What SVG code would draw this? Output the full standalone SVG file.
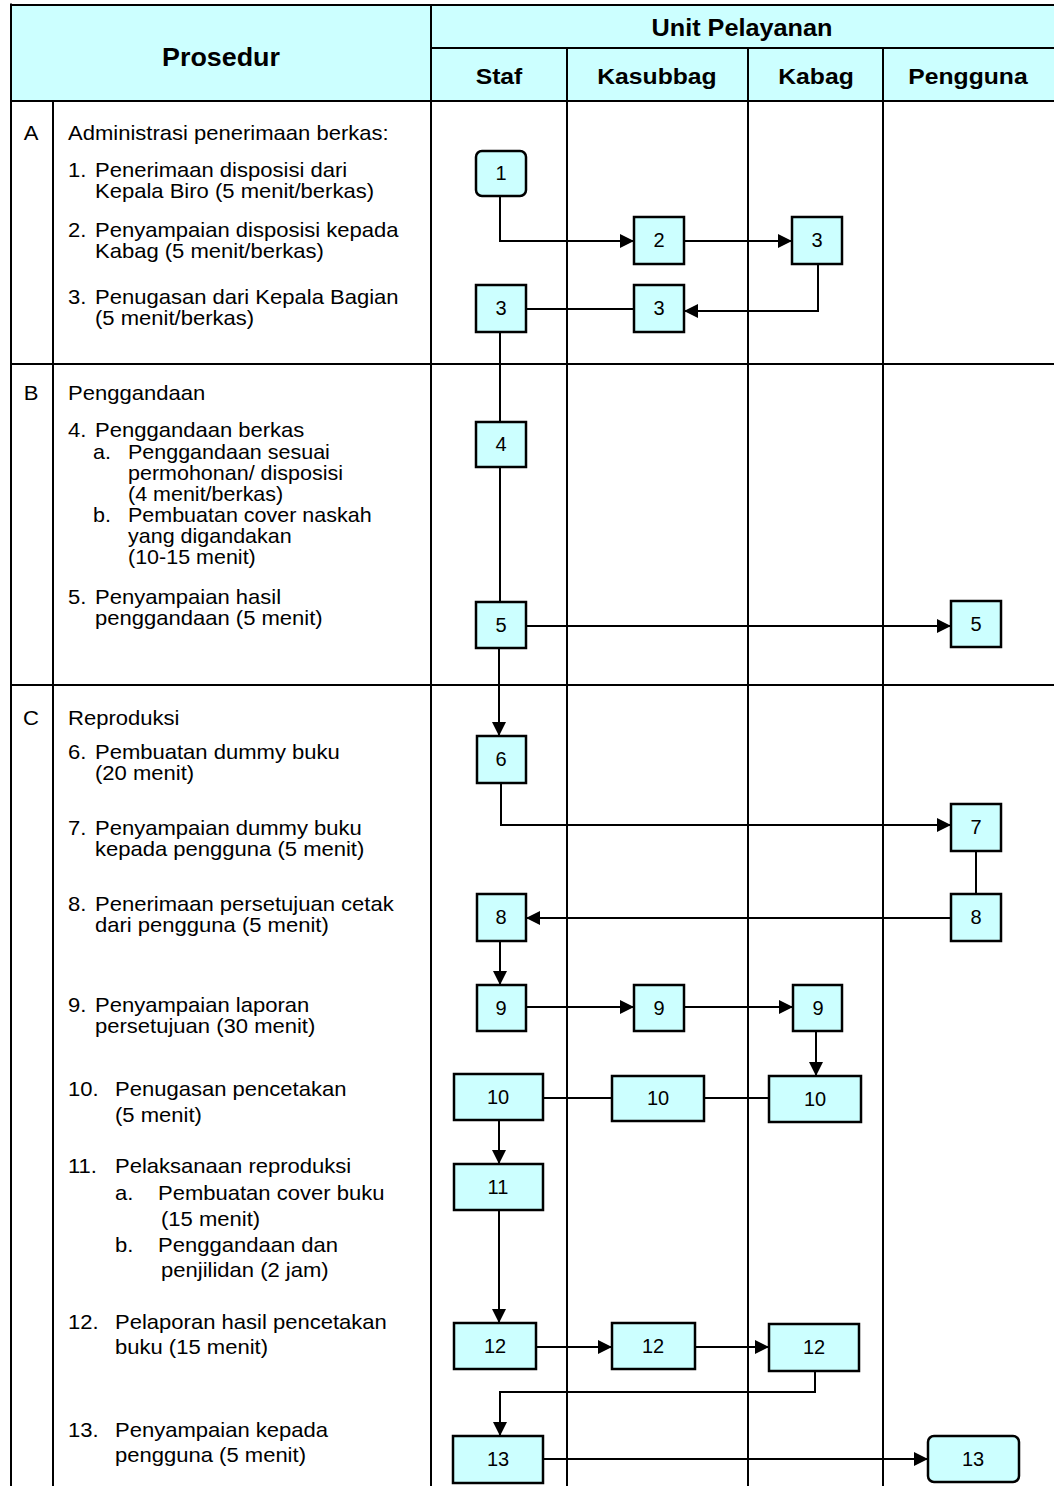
<svg xmlns="http://www.w3.org/2000/svg" width="1054" height="1486" viewBox="0 0 1054 1486">
<defs>
<style>
.t{font-family:"Liberation Sans",Arial,sans-serif;font-size:20.5px;fill:#000}
.s{font-size:20px}
.h{font-family:"Liberation Sans",Arial,sans-serif;font-weight:bold;fill:#000;text-anchor:middle}
.n{font-family:"Liberation Sans",Arial,sans-serif;font-size:20px;fill:#000;text-anchor:middle}
.c{text-anchor:middle}
.box{fill:#CCFFFF;stroke:#000;stroke-width:2.5}
.g{stroke:#000;stroke-width:2;fill:none}
.ln{stroke:#000;stroke-width:2;fill:none}
</style>
<marker id="ah" viewBox="0 0 10 10" refX="10" refY="5" markerWidth="14" markerHeight="14" markerUnits="userSpaceOnUse" orient="auto">
<path d="M0,0 L10,5 L0,10 z" fill="#000"/>
</marker>
</defs>
<rect x="0" y="0" width="1054" height="1486" fill="#fff"/>
<g id="grid">
<rect x="12" y="5" width="1042" height="96" fill="#CCFFFF"/>
<line class="g" x1="12" y1="5" x2="1054" y2="5" stroke-width="3"/>
<line class="g" x1="11" y1="3.5" x2="11" y2="1486" stroke-width="4"/>
<line class="g" x1="431" y1="5" x2="431" y2="1486"/>
<line class="g" x1="431" y1="48" x2="1054" y2="48"/>
<line class="g" x1="12" y1="101" x2="1054" y2="101"/>
<line class="g" x1="567" y1="48" x2="567" y2="1486"/>
<line class="g" x1="748" y1="48" x2="748" y2="1486"/>
<line class="g" x1="883" y1="48" x2="883" y2="1486"/>
<line class="g" x1="53" y1="101" x2="53" y2="1486"/>
<line class="g" x1="12" y1="364" x2="1054" y2="364"/>
<line class="g" x1="12" y1="685" x2="1054" y2="685"/>
<g transform="scale(1.075,1)">
<text class="h" x="205.58" y="66" font-size="25">Prosedur</text>
<text class="h" x="690.23" y="36" font-size="23.5">Unit Pelayanan</text>
<text class="h" x="464.19" y="84" font-size="23">Staf</text>
<text class="h" x="611.16" y="84" font-size="23">Kasubbag</text>
<text class="h" x="759.07" y="84" font-size="23">Kabag</text>
<text class="h" x="900.47" y="84" font-size="23">Pengguna</text>
</g>
</g>
<g id="prosedur" transform="scale(1.075,1)">
<text class="t c" x="28.84" y="140">A</text>
<text class="t" x="63.26" y="140">Administrasi penerimaan berkas:</text>
<text class="t" x="63.26" y="177">1.</text>
<text class="t" x="88.37" y="177">Penerimaan disposisi dari</text>
<text class="t" x="88.37" y="198">Kepala Biro (5 menit/berkas)</text>
<text class="t" x="63.26" y="237">2.</text>
<text class="t" x="88.37" y="237">Penyampaian disposisi kepada</text>
<text class="t" x="88.37" y="258">Kabag (5 menit/berkas)</text>
<text class="t" x="63.26" y="304">3.</text>
<text class="t" x="88.37" y="304">Penugasan dari Kepala Bagian</text>
<text class="t" x="88.37" y="325">(5 menit/berkas)</text>

<text class="t c" x="28.84" y="400">B</text>
<text class="t" x="63.26" y="400">Penggandaan</text>
<text class="t" x="63.26" y="437">4.</text>
<text class="t" x="88.37" y="437">Penggandaan berkas</text>
<text class="t s" x="86.51" y="459">a.</text>
<text class="t s" x="119.07" y="459">Penggandaan sesuai</text>
<text class="t s" x="119.07" y="480">permohonan/ disposisi</text>
<text class="t s" x="119.07" y="501">(4 menit/berkas)</text>
<text class="t s" x="86.51" y="522">b.</text>
<text class="t s" x="119.07" y="522">Pembuatan cover naskah</text>
<text class="t s" x="119.07" y="543">yang digandakan</text>
<text class="t s" x="119.07" y="564">(10-15 menit)</text>
<text class="t" x="63.26" y="604">5.</text>
<text class="t" x="88.37" y="604">Penyampaian hasil</text>
<text class="t" x="88.37" y="625">penggandaan (5 menit)</text>

<text class="t c" x="28.84" y="725">C</text>
<text class="t" x="63.26" y="725">Reproduksi</text>
<text class="t" x="63.26" y="759">6.</text>
<text class="t" x="88.37" y="759">Pembuatan dummy buku</text>
<text class="t" x="88.37" y="780">(20 menit)</text>
<text class="t" x="63.26" y="835">7.</text>
<text class="t" x="88.37" y="835">Penyampaian dummy buku</text>
<text class="t" x="88.37" y="856">kepada pengguna (5 menit)</text>
<text class="t" x="63.26" y="911">8.</text>
<text class="t" x="88.37" y="911">Penerimaan persetujuan cetak</text>
<text class="t" x="88.37" y="932">dari pengguna (5 menit)</text>
<text class="t" x="63.26" y="1012">9.</text>
<text class="t" x="88.37" y="1012">Penyampaian laporan</text>
<text class="t" x="88.37" y="1033">persetujuan (30 menit)</text>
<text class="t" x="63.26" y="1096">10.</text>
<text class="t" x="106.98" y="1096">Penugasan pencetakan</text>
<text class="t" x="106.98" y="1122">(5 menit)</text>
<text class="t" x="63.26" y="1173">11.</text>
<text class="t" x="106.98" y="1173">Pelaksanaan reproduksi</text>
<text class="t" x="106.98" y="1200">a.</text>
<text class="t" x="146.98" y="1200">Pembuatan cover buku</text>
<text class="t" x="149.77" y="1226">(15 menit)</text>
<text class="t" x="106.98" y="1252">b.</text>
<text class="t" x="146.98" y="1252">Penggandaan dan</text>
<text class="t" x="149.77" y="1277">penjilidan (2 jam)</text>
<text class="t" x="63.26" y="1329">12.</text>
<text class="t" x="106.98" y="1329">Pelaporan hasil pencetakan</text>
<text class="t" x="106.98" y="1354">buku (15 menit)</text>
<text class="t" x="63.26" y="1437">13.</text>
<text class="t" x="106.98" y="1437">Penyampaian kepada</text>
<text class="t" x="106.98" y="1462">pengguna (5 menit)</text>
</g>
<g id="connectors">
<path class="ln" d="M500,196 V241 H634" marker-end="url(#ah)"/>
<path class="ln" d="M684,241 H792" marker-end="url(#ah)"/>
<path class="ln" d="M818,264 V311 H684" marker-end="url(#ah)"/>
<path class="ln" d="M634,309 H526"/>
<path class="ln" d="M500,332 V422"/>
<path class="ln" d="M500,467 V602"/>
<path class="ln" d="M526,626 H951" marker-end="url(#ah)"/>
<path class="ln" d="M499,648 V736" marker-end="url(#ah)"/>
<path class="ln" d="M501,783 V825 H951" marker-end="url(#ah)"/>
<path class="ln" d="M976,851 V894"/>
<path class="ln" d="M951,918 H526" marker-end="url(#ah)"/>
<path class="ln" d="M500,941 V985" marker-end="url(#ah)"/>
<path class="ln" d="M526,1007 H634" marker-end="url(#ah)"/>
<path class="ln" d="M684,1007 H793" marker-end="url(#ah)"/>
<path class="ln" d="M816,1031 V1076" marker-end="url(#ah)"/>
<path class="ln" d="M543,1098 H612"/>
<path class="ln" d="M704,1098 H769"/>
<path class="ln" d="M499,1120 V1164" marker-end="url(#ah)"/>
<path class="ln" d="M499,1210 V1323" marker-end="url(#ah)"/>
<path class="ln" d="M536,1347 H612" marker-end="url(#ah)"/>
<path class="ln" d="M695,1347 H769" marker-end="url(#ah)"/>
<path class="ln" d="M815,1371 V1392 H500 V1436" marker-end="url(#ah)"/>
<path class="ln" d="M543,1459 H928" marker-end="url(#ah)"/>
</g>
<g id="n1"><rect class="box" x="476" y="151" width="50" height="45" rx="6"/><text class="n" x="501" y="180">1</text></g>
<g id="n2"><rect class="box" x="634" y="217" width="50" height="47"/><text class="n" x="659" y="247">2</text></g>
<g id="n3kabag"><rect class="box" x="792" y="217" width="50" height="47"/><text class="n" x="817" y="247">3</text></g>
<g id="n3staf"><rect class="box" x="476" y="285" width="50" height="47"/><text class="n" x="501" y="315">3</text></g>
<g id="n3kasubbag"><rect class="box" x="634" y="285" width="50" height="47"/><text class="n" x="659" y="315">3</text></g>
<g id="n4"><rect class="box" x="476" y="422" width="50" height="45"/><text class="n" x="501" y="451">4</text></g>
<g id="n5staf"><rect class="box" x="476" y="602" width="50" height="46"/><text class="n" x="501" y="632">5</text></g>
<g id="n5pengguna"><rect class="box" x="951" y="601" width="50" height="46"/><text class="n" x="976" y="631">5</text></g>
<g id="n6"><rect class="box" x="477" y="736" width="49" height="47"/><text class="n" x="501" y="766">6</text></g>
<g id="n7"><rect class="box" x="951" y="804" width="50" height="47"/><text class="n" x="976" y="834">7</text></g>
<g id="n8staf"><rect class="box" x="477" y="894" width="49" height="47"/><text class="n" x="501" y="924">8</text></g>
<g id="n8pengguna"><rect class="box" x="951" y="894" width="50" height="47"/><text class="n" x="976" y="924">8</text></g>
<g id="n9staf"><rect class="box" x="477" y="985" width="49" height="46"/><text class="n" x="501" y="1015">9</text></g>
<g id="n9kasubbag"><rect class="box" x="634" y="985" width="50" height="46"/><text class="n" x="659" y="1015">9</text></g>
<g id="n9kabag"><rect class="box" x="793" y="985" width="49" height="46"/><text class="n" x="818" y="1015">9</text></g>
<g id="n10staf"><rect class="box" x="454" y="1074" width="89" height="46"/><text class="n" x="498" y="1104">10</text></g>
<g id="n10kasubbag"><rect class="box" x="612" y="1076" width="92" height="45"/><text class="n" x="658" y="1105">10</text></g>
<g id="n10kabag"><rect class="box" x="769" y="1076" width="92" height="46"/><text class="n" x="815" y="1106">10</text></g>
<g id="n11"><rect class="box" x="454" y="1164" width="89" height="46"/><text class="n" x="498" y="1194">11</text></g>
<g id="n12staf"><rect class="box" x="454" y="1323" width="82" height="46"/><text class="n" x="495" y="1353">12</text></g>
<g id="n12kasubbag"><rect class="box" x="612" y="1323" width="83" height="46"/><text class="n" x="653" y="1353">12</text></g>
<g id="n12kabag"><rect class="box" x="769" y="1324" width="90" height="47"/><text class="n" x="814" y="1354">12</text></g>
<g id="n13staf"><rect class="box" x="453" y="1436" width="90" height="47"/><text class="n" x="498" y="1466">13</text></g>
<g id="n13pengguna"><rect class="box" x="928" y="1436" width="91" height="46" rx="6"/><text class="n" x="973" y="1466">13</text></g>
</svg>
